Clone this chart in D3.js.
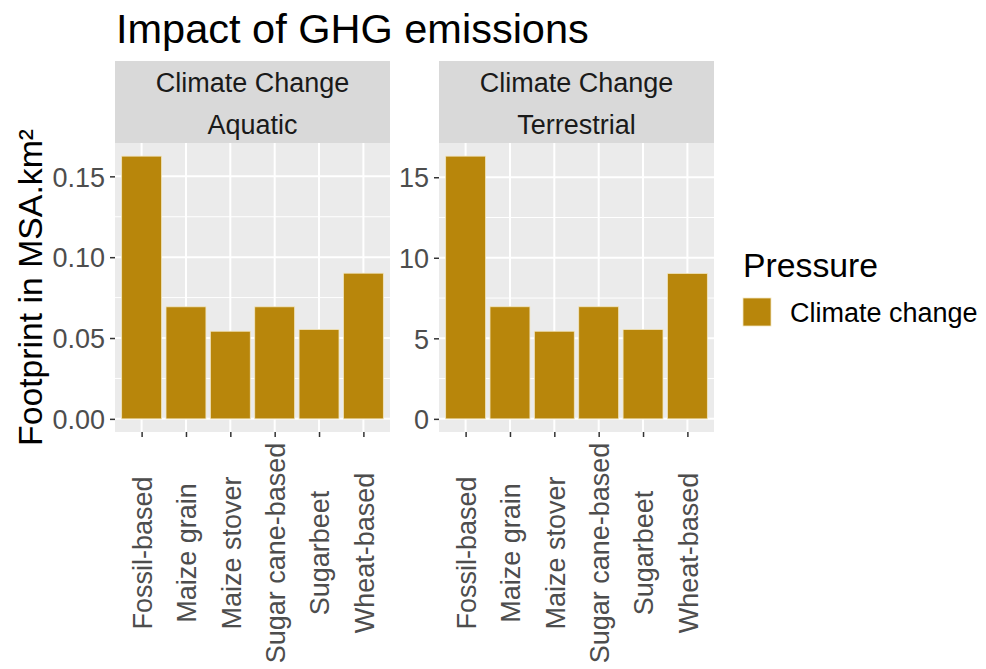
<!DOCTYPE html>
<html>
<head>
<meta charset="utf-8">
<script src="https://cdn.jsdelivr.net/npm/d3@7"></script>
<style>
  html, body { margin: 0; padding: 0; background: #ffffff; }
  svg { display: block; font-family: "Liberation Sans", Arial, sans-serif; }
</style>
</head>
<body>
<svg id="chart" width="986" height="669"></svg>
<script>
// ---- data ----
const categories = ["Fossil-based", "Maize grain", "Maize stover", "Sugar cane-based", "Sugarbeet", "Wheat-based"];
const aquaticValues = [0.1625, 0.0693, 0.0542, 0.0693, 0.0553, 0.0901];
const terrestrialValues = [16.31, 6.96, 5.44, 6.96, 5.55, 9.03];
const aquaticTicks = [0, 0.05, 0.10, 0.15];
const aquaticTickLabels = ["0.00", "0.05", "0.10", "0.15"];
const terrestrialTicks = [0, 5, 10, 15];
const terrestrialTickLabels = ["0", "5", "10", "15"];
const facetLine1 = ["Climate Change", "Climate Change"];
const facetLine2 = ["Aquatic", "Terrestrial"];
const legendTitle = "Pressure";
const legendLabels = ["Climate change"];
const chartTitle = "Impact of GHG emissions";
const yTitle = "Footprint in MSA.km²";

const barColor = "#B8860B";

const facets = [
  { values: aquaticValues, ticks: aquaticTicks, tickLabels: aquaticTickLabels, l1: facetLine1[0], l2: facetLine2[0] },
  { values: terrestrialValues, ticks: terrestrialTicks, tickLabels: terrestrialTickLabels, l1: facetLine1[1], l2: facetLine2[1] }
];

const svg = d3.select("#chart");
svg.append("rect").attr("width", 986).attr("height", 669).attr("fill", "#ffffff");

const panelTop = 143, panelBottom = 432;
const stripTop = 61;
const panelLefts = [115, 439];
const panelWidth = 275;

// title
svg.append("text").attr("x", 116).attr("y", 43)
  .attr("font-size", 41.5).attr("fill", "#000").text(chartTitle);

// y axis title
svg.append("text")
  .attr("transform", `translate(41.5, ${(panelTop + panelBottom) / 2}) rotate(-90)`)
  .attr("text-anchor", "middle").attr("font-size", 33.75).attr("fill", "#000")
  .text(yTitle);

facets.forEach((f, i) => {
  const x0 = panelLefts[i];
  const x = d3.scalePoint().domain(categories).range([x0, x0 + panelWidth]).padding(0.6);
  const step = x.step();
  const maxV = d3.max(f.values);
  const y = d3.scaleLinear().domain([-0.05 * maxV, maxV * 1.05]).range([panelBottom, panelTop]);

  const g = svg.append("g");
  // panel background
  g.append("rect").attr("x", x0).attr("y", panelTop).attr("width", panelWidth)
    .attr("height", panelBottom - panelTop).attr("fill", "#EBEBEB");

  // minor y grid
  const tstep = f.ticks[1] - f.ticks[0];
  const minors = f.ticks.map(t => t + tstep / 2).filter(t => y(t) > panelTop);
  g.selectAll(".minor").data(minors).enter().append("line")
    .attr("x1", x0).attr("x2", x0 + panelWidth)
    .attr("y1", d => y(d)).attr("y2", d => y(d))
    .attr("stroke", "#ffffff").attr("stroke-width", 1);
  // major y grid
  g.selectAll(".major").data(f.ticks).enter().append("line")
    .attr("x1", x0).attr("x2", x0 + panelWidth)
    .attr("y1", d => y(d)).attr("y2", d => y(d))
    .attr("stroke", "#ffffff").attr("stroke-width", 2);
  // major x grid
  g.selectAll(".xgrid").data(categories).enter().append("line")
    .attr("x1", d => x(d)).attr("x2", d => x(d))
    .attr("y1", panelTop).attr("y2", panelBottom)
    .attr("stroke", "#ffffff").attr("stroke-width", 2);

  // bars
  g.selectAll(".bar").data(categories).enter().append("rect")
    .attr("x", d => x(d) - step * 0.45)
    .attr("width", step * 0.9)
    .attr("y", (d, j) => y(f.values[j]))
    .attr("height", (d, j) => y(0) - y(f.values[j]))
    .attr("fill", barColor)
    .attr("stroke", "#F2E6C0").attr("stroke-width", 0.8);

  // strip
  g.append("rect").attr("x", x0).attr("y", stripTop).attr("width", panelWidth)
    .attr("height", panelTop - stripTop).attr("fill", "#D9D9D9");
  g.append("text").attr("x", x0 + panelWidth / 2).attr("y", 91.5)
    .attr("text-anchor", "middle").attr("font-size", 27).attr("fill", "#1A1A1A").text(f.l1);
  g.append("text").attr("x", x0 + panelWidth / 2).attr("y", 133.5)
    .attr("text-anchor", "middle").attr("font-size", 27).attr("fill", "#1A1A1A").text(f.l2);

  // y axis
  const yAxis = d3.axisLeft(y).tickValues(f.ticks).tickSize(5).tickPadding(5)
    .tickFormat((d, j) => f.tickLabels[j]);
  const ya = svg.append("g").attr("transform", `translate(${x0},0)`).call(yAxis);
  ya.select(".domain").remove();
  ya.selectAll(".tick line").attr("stroke", "#333333").attr("stroke-width", 1.5);
  ya.selectAll(".tick text").attr("font-size", 27).attr("fill", "#4D4D4D")
    .attr("font-family", "Liberation Sans, Arial, sans-serif").attr("dy", "0.36em");

  // x axis
  const xAxis = d3.axisBottom(x).tickSize(5).tickPadding(5);
  const xa = svg.append("g").attr("transform", `translate(0,${panelBottom})`).call(xAxis);
  xa.select(".domain").remove();
  xa.selectAll(".tick line").attr("stroke", "#333333").attr("stroke-width", 1.5);
  xa.selectAll(".tick text")
    .attr("font-size", 27).attr("fill", "#4D4D4D")
    .attr("font-family", "Liberation Sans, Arial, sans-serif")
    .attr("text-anchor", "middle")
    .attr("transform", "rotate(-90)")
    .attr("x", -121).attr("y", 0).attr("dy", "0.36em");
});

// legend
const lg = svg.append("g");
lg.append("text").attr("x", 743).attr("y", 277).attr("font-size", 33.75).attr("fill", "#000").text(legendTitle);
lg.selectAll(".key").data(legendLabels).enter().append("rect")
  .attr("x", 743).attr("y", (d, i) => 298 + i * 34).attr("width", 28).attr("height", 28)
  .attr("fill", barColor).attr("stroke", "#F2E6C0").attr("stroke-width", 0.8);
lg.selectAll(".lab").data(legendLabels).enter().append("text")
  .attr("x", 790).attr("y", (d, i) => 322 + i * 34).attr("font-size", 27).attr("fill", "#000").text(d => d);
</script>
</body>
</html>
